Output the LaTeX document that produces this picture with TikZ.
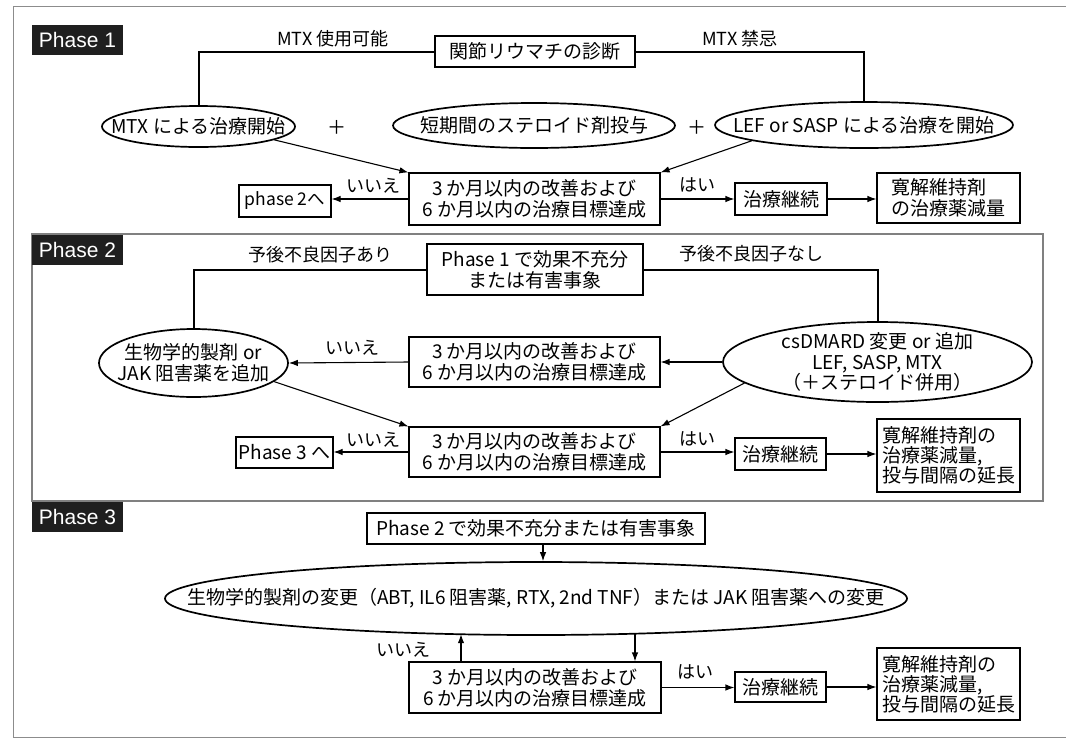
\documentclass[tikz,border=0pt]{standalone}
\usepackage{fontspec}
\setmainfont{Noto Sans CJK JP}
\newfontfamily\latfont{Liberation Sans}
\usetikzlibrary{arrows.meta,shapes.geometric,calc}
\begin{document}
\begin{tikzpicture}[x=1pt,y=-1pt,
  jp/.style={font=\fontsize{19}{21}\selectfont},
  box/.style={draw, line width=1.1pt, inner sep=2pt, jp, align=center},
  ell/.style={draw, ellipse, line width=1.7pt, inner sep=0pt},
  txt/.style={jp, inner sep=0pt, align=center},
  lab/.style={font=\fontsize{18}{20}\selectfont, inner sep=0pt},
  arr/.style={line width=1.1pt, -{Latex[length=9pt,width=6.5pt]}},
  branch/.style={line width=2pt},
  plabel/.style={fill=black!88, text=white, inner sep=0pt, minimum width=91pt, minimum height=30pt, font=\latfont\fontsize{21}{21}\selectfont},
]
\useasboundingbox (0,0) rectangle (1066,740);
\draw[black!45, line width=1pt] (1066,6) -- (13,6) -- (13,737) -- (1066,737);
\draw[black!50, line width=1.2pt] (32,234) rectangle (1043,501);

% ---------- Phase 1
\node[plabel] (ph1) at (77.5,40) {Phase 1};
\node[box, minimum width=200, minimum height=31] (diag) at (535,51.5) {関節リウマチの診断};
\node[ell, minimum width=193, minimum height=41] (e1) at (198.5,126.5) {};
\node[txt] (e1t) at (e1) {MTX による治療開始};
\node[ell, minimum width=282, minimum height=45] (e2) at (534,125.5) {};
\node[txt] (e2t) at (e2) {短期間のステロイド剤投与};
\node[ell, minimum width=298, minimum height=46] (e3) at (864,125) {};
\node[txt] (e3t) at (e3) {LEF or SASP による治療を開始};
\node[txt] (plus1) at (337,127) {＋};
\node[txt] (plus2) at (697,127) {＋};
\node[box, minimum width=251, minimum height=52] (d1) at (534.5,199) {3 か月以内の改善および\\6 か月以内の治療目標達成};
\node[box, minimum width=92, minimum height=32, inner sep=0pt, font=\fontsize{17.5}{20}\selectfont] (p2) at (285,201) {phase 2へ};
\node[box, minimum width=92, minimum height=32] (c1) at (781,199) {治療継続};
\node[box, minimum width=143, minimum height=50, align=left] (r1) at (948.5,198) {寛解維持剤\\の治療薬減量};
\node[lab] (l1) at (333,39) {MTX 使用可能};
\node[lab] (l2) at (740,39) {MTX 禁忌};
\node[lab] (l3) at (373,186) {いいえ};
\node[lab] (l4) at (697,185) {はい};
\draw[branch] (diag.west) -| (e1.north);
\draw[branch] (diag.east) -| (e3.north);
\draw[arr] (e1.-10) -- (d1.north west);
\draw[arr] (e3.188) -- (d1.north east);
\draw[arr] (d1.west) -- (d1.west -| p2.east);
\draw[arr] (d1.east) -- (d1.east -| c1.west);
\draw[arr] (c1.east) -- (c1.east -| r1.west);

% ---------- Phase 2
\node[plabel] (ph2) at (77.5,249.5) {Phase 2};
\node[box, minimum width=216, minimum height=51] (f2) at (535,269.5) {Phase 1 で効果不充分\\または有害事象};
\node[ell, minimum width=189, minimum height=68] (b2) at (193.5,363) {};
\node[txt] (b2t) at (b2) {生物学的製剤 or\\JAK 阻害薬を追加};
\node[ell, minimum width=309, minimum height=80] (cs) at (877.5,362) {};
\node[txt, font=\fontsize{19}{20.5}\selectfont] (cst) at (cs) {csDMARD 変更 or 追加\\LEF, SASP, MTX\\（＋ステロイド併用）};
\node[box, minimum width=251, minimum height=50] (dA) at (534.5,362) {3 か月以内の改善および\\6 か月以内の治療目標達成};
\node[box, minimum width=251, minimum height=50] (dB) at (534.5,452) {3 か月以内の改善および\\6 か月以内の治療目標達成};
\node[box, minimum width=97, minimum height=31, inner sep=1pt] (p3) at (284.5,452.5) {Phase 3 へ};
\node[box, minimum width=91, minimum height=32] (c2) at (780.5,454) {治療継続};
\node[box, minimum width=143, minimum height=73, align=left, font=\fontsize{19}{20}\selectfont] (r2) at (948.5,455.5) {寛解維持剤の\\治療薬減量,\\投与間隔の延長};
\node[lab] (l5) at (320,255) {予後不良因子あり};
\node[lab] (l6) at (751,254) {予後不良因子なし};
\node[lab] (l7) at (352,348) {いいえ};
\node[lab] (l8) at (373,440) {いいえ};
\node[lab] (l9) at (697,439) {はい};
\draw[branch] (f2.west) -| (b2.north);
\draw[branch] (f2.east) -| (cs.north);
\draw[arr] (cs.west) -- (dA.east);
\draw[arr] (dA.west) -- (b2.east);
\draw[arr] (b2.-13) -- (dB.north west);
\draw[arr] (cs.189) -- (dB.north east);
\draw[arr] (dB.west) -- (dB.west -| p3.east);
\draw[arr] (dB.east) -- (dB.east -| c2.west);
\draw[arr] (c2.east) -- (c2.east -| r2.west);

% ---------- Phase 3
\node[plabel] (ph3) at (77.5,517) {Phase 3};
\node[box, minimum width=338, minimum height=31] (f3) at (536,528.5) {Phase 2 で効果不充分または有害事象};
\node[ell, minimum width=742, minimum height=73] (big) at (536,598.5) {};
\node[txt] (bigt) at (big) {生物学的製剤の変更（ABT, IL6 阻害薬, RTX, 2nd TNF）または JAK 阻害薬への変更};
\node[box, minimum width=252, minimum height=51] (dC) at (535,687.5) {3 か月以内の改善および\\6 か月以内の治療目標達成};
\node[box, minimum width=91, minimum height=30] (c3) at (780.5,687) {治療継続};
\node[box, minimum width=143, minimum height=72, align=left, font=\fontsize{19}{20}\selectfont] (r3) at (948.5,684) {寛解維持剤の\\治療薬減量,\\投与間隔の延長};
\node[lab] (l10) at (403,650) {いいえ};
\node[lab] (l11) at (695,672) {はい};
\coordinate (bd) at ($(big.center)+(99,35.2)$);
\coordinate (bu) at ($(big.center)+(-75,35.7)$);
\draw[arr] ([xshift=7pt]f3.south) -- ([xshift=7pt]f3.south |- big.north);
\draw[arr] (bd) -- (bd |- dC.north);
\draw[arr] (bu |- dC.north) -- (bu);
\draw[arr] (dC.east) -- (dC.east -| c3.west);
\draw[arr] (c3.east) -- (c3.east -| r3.west);
\end{tikzpicture}
\end{document}
